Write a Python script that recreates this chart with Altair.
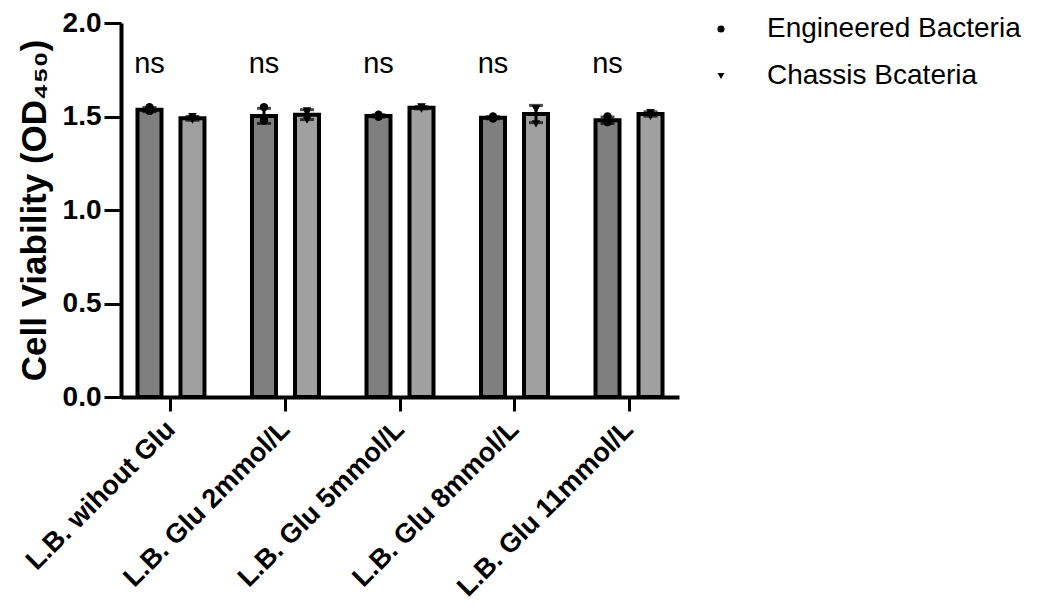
import altair as alt
import pandas as pd

groups = ["L.B. wihout Glu", "L.B. Glu 2mmol/L", "L.B. Glu 5mmol/L",
          "L.B. Glu 8mmol/L", "L.B. Glu 11mmol/L"]
series = ["Engineered Bacteria", "Chassis Bcateria"]
engineered_reps = [[1.53, 1.55, 1.53], [1.48, 1.55, 1.48], [1.50, 1.51, 1.50],
                   [1.49, 1.50, 1.49], [1.50, 1.47, 1.47]]
chassis_reps = [[1.50, 1.49, 1.48], [1.53, 1.52, 1.48], [1.55, 1.54, 1.55],
                [1.54, 1.54, 1.46], [1.52, 1.52, 1.50]]
sig_labels = ["ns", "ns", "ns", "ns", "ns"]
bar_colors = ["#7f7f7f", "#a0a0a0"]
shapes = ["circle", "triangle-down"]

rows = []
for s, reps_all in zip(series, [engineered_reps, chassis_reps]):
    for g, reps in zip(groups, reps_all):
        for i, v in enumerate(reps):
            rows.append({"group": g, "series": s, "rep": i, "value": v})
df = pd.DataFrame(rows)
sig_df = pd.DataFrame({"group": groups, "series": [series[0]] * len(groups), "label": sig_labels})

FONT = "Liberation Sans"
TITLE = "Cell Viability (OD₄₅₀)"

x_enc = alt.X("group:N", sort=groups,
              scale=alt.Scale(paddingInner=0.415, paddingOuter=0.144),
              axis=alt.Axis(title=None, labelAngle=-45, labelAlign="right", labelBaseline="middle",
                            labelFontSize=27, labelFontWeight="bold", labelFont=FONT, labelLimit=0,
                            labelPadding=14, tickSize=14, tickWidth=3, domainWidth=4,
                            labelColor="black", tickColor="black", domainColor="black"))
xo_enc = alt.XOffset("series:N", sort=series, scale=alt.Scale(paddingInner=0.442, paddingOuter=0))
y_scale = alt.Scale(domain=[0, 2], nice=False, zero=True)
y_axis = alt.Axis(title=TITLE, values=[0, 0.5, 1.0, 1.5, 2.0], format=".1f",
                  labelFontSize=28, labelFontWeight="bold", labelFont=FONT, labelPadding=3,
                  tickSize=17, tickWidth=3, domainWidth=4, grid=False,
                  titleFontSize=35, titleFontWeight="bold", titleFont=FONT, titlePadding=10,
                  labelColor="black", tickColor="black", domainColor="black", titleColor="black")


def yq(field):
    return alt.Y(field, scale=y_scale, axis=y_axis, title=TITLE)


base = alt.Chart(df).transform_aggregate(
    mean="mean(value)", sd="stdev(value)", groupby=["group", "series"]
).transform_calculate(lo="datum.mean - datum.sd", hi="datum.mean + datum.sd")

# bar fill scale (domain listed in reverse so it is not merged with the shape legend)
bars = base.mark_bar(stroke="black", strokeWidth=4).encode(
    x=x_enc, xOffset=xo_enc, y=yq("mean:Q"),
    color=alt.Color("series:N", scale=alt.Scale(domain=series[::-1], range=bar_colors[::-1]), legend=None),
)

err = base.mark_rule(color="black", strokeWidth=3).encode(
    x=x_enc, xOffset=xo_enc, y=yq("lo:Q"), y2="hi:Q")
cap_lo = base.mark_tick(color="black", thickness=3, size=14).encode(
    x=x_enc, xOffset=xo_enc, y=yq("lo:Q"))
cap_hi = base.mark_tick(color="black", thickness=3, size=14).encode(
    x=x_enc, xOffset=xo_enc, y=yq("hi:Q"))

legend = alt.Legend(title=None, orient="none", legendX=586, legendY=-8,
                    labelFontSize=28, labelFont=FONT, labelColor="black", labelLimit=0,
                    symbolSize=50, symbolFillColor="black", symbolStrokeColor="black",
                    rowPadding=19, labelOffset=32, padding=0)

point_layers = []
for rep, dx in zip([0, 1, 2], [-9, 0, 9]):
    point_layers.append(
        alt.Chart(df).transform_filter(alt.datum.rep == rep).mark_point(
            filled=True, size=70, opacity=1, dx=dx
        ).encode(
            x=x_enc, xOffset=xo_enc, y=yq("value:Q"),
            shape=alt.Shape("series:N", scale=alt.Scale(domain=series, range=shapes), legend=legend),
            color=alt.value("black"),
        )
    )

ns_text = alt.Chart(sig_df).mark_text(fontSize=29, font=FONT, baseline="middle", color="black").encode(
    x=x_enc, xOffset=xo_enc, y=alt.Y(datum=1.78, scale=y_scale, axis=y_axis, title=TITLE), text="label:N")

chart = alt.layer(bars, err, cap_lo, cap_hi, *point_layers, ns_text).properties(
    width=558, height=374, autosize="none",
    padding={"left": 113, "top": 15, "right": 364, "bottom": 209},
).configure_view(stroke=None)

chart.save("out.html", embed_options={"renderer": "svg", "actions": False})
